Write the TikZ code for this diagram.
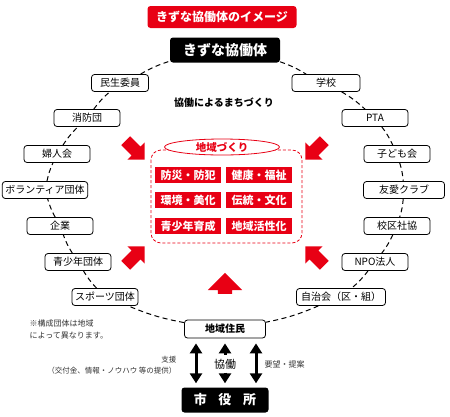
\documentclass[tikz,border=0pt]{standalone}
\usepackage{fontspec}
\setmainfont{Noto Sans CJK JP}
\usetikzlibrary{shapes.geometric,shapes.arrows,arrows.meta}
\definecolor{kred}{RGB}{232,0,20}

\begin{document}
\begin{tikzpicture}[x=1pt,y=-1pt,
    grp/.style={draw,rounded corners=3pt,fill=white,line width=0.8pt,minimum width=66pt,minimum height=17pt,inner xsep=3pt,inner ysep=0pt,font=\fontsize{10}{10}\selectfont},
    tag/.style={fill=kred,text=white,font=\bfseries\fontsize{11}{12}\selectfont,minimum width=66pt,minimum height=16pt,inner sep=0pt},
    head/.style={fill=black,text=white,rounded corners=3pt,inner sep=0pt,font=\bfseries\fontsize{14}{14}\selectfont},
    ring/.style={dash pattern=on 5pt off 3.5pt,line width=1pt},
    bigarrow/.style={single arrow,fill=kred,inner xsep=0pt,inner ysep=6pt,minimum height=27pt,single arrow head extend=6pt},
    link/.style={line width=3pt,{Triangle[width=12pt,length=10pt]}-{Triangle[width=12pt,length=10pt]},shorten <=5pt,shorten >=4pt}]
\useasboundingbox (0,0) rectangle (450,416);

% title and top
\node[fill=kred,text=white,rounded corners=3pt,minimum width=149pt,minimum height=22pt,inner sep=0pt,font=\bfseries\fontsize{12}{12}\selectfont] (title) at (222,17) {きずな協働体のイメージ};
\node[head,minimum width=110pt,minimum height=25pt] (kizuna) at (225,50) {きずな協働体};
\node[font=\bfseries\fontsize{10}{10}\selectfont] (machi) at (224,103) {協働によるまちづくり};

% left side groups
\node[grp,minimum width=57pt] (minsei) at (120,83) {民生委員};
\node[grp] (shobo)  at (87,118)  {消防団};
\node[grp] (fujin)  at (57,154)  {婦人会};
\node[grp,minimum width=80pt] (vol) at (45,190) {ボランティア団体};
\node[grp] (kigyo)  at (60,226)  {企業};
\node[grp] (seisho) at (78,262)  {青少年団体};
\node[grp] (sports) at (105,297) {スポーツ団体};

% right side groups
\node[grp,minimum width=68pt] (gakko) at (326,83) {学校};
\node[grp] (pta)    at (375,118) {PTA};
\node[grp] (kodomo) at (397,154) {子ども会};
\node[grp,minimum width=81pt] (yuai) at (404,190) {友愛クラブ};
\node[grp] (shakyo) at (397,226) {校区社協};
\node[grp] (npo)    at (375,262) {NPO法人};
\node[grp,minimum width=89pt] (jichi) at (341,297) {自治会（区・組）};

\node[grp,minimum width=81pt,minimum height=18pt,font=\bfseries\fontsize{10}{10}\selectfont] (jumin) at (225,329) {地域住民};

% dashed ring
\foreach \a/\b in {kizuna/gakko,gakko/pta,pta/kodomo,kodomo/yuai,yuai/shakyo,shakyo/npo,npo/jichi,jichi/jumin,
    jumin/sports,sports/seisho,seisho/kigyo,kigyo/vol,vol/fujin,fujin/shobo,shobo/minsei,minsei/kizuna}
  \draw[ring] (\a) to[bend left=6] (\b);

% centre
\draw[kred,dash pattern=on 3pt off 2pt,line width=0.8pt,rounded corners=10pt] (151,150) rectangle (302,243);
\node[ellipse,draw=kred,fill=white,line width=0.8pt,text=kred,minimum width=115pt,minimum height=16pt,inner sep=0pt,font=\bfseries\fontsize{10.5}{10}\selectfont] (zukuri) at (222,147) {地域づくり};
\node[tag] (bosai)  at (188,175) {防災・防犯};
\node[tag] (kenko)  at (259,175) {健康・福祉};
\node[tag] (kankyo) at (188,200) {環境・美化};
\node[tag] (dento)  at (259,200) {伝統・文化};
\node[tag] (ikusei) at (188,226) {青少年育成};
\node[tag] (kasei)  at (259,226) {地域活性化};

% red arrows
\node[bigarrow,rotate=-45]  (ul) at (133,148) {};
\node[bigarrow,rotate=-135] (ur) at (317,148) {};
\node[bigarrow,rotate=45]   (ll) at (133,258) {};
\node[bigarrow,rotate=135]  (lr) at (317,258) {};
\node[bigarrow,rotate=90,inner ysep=7pt,minimum height=21pt,single arrow head extend=10pt] (up) at (225,287) {};

% note
\node[anchor=north west,align=left,text=black!80,font=\fontsize{8}{12}\selectfont] (note) at (26,316) {※構成団体は地域\\によって異なります。};

% city hall
\node[head,minimum width=87pt,minimum height=25pt,font=\bfseries\fontsize{13}{13}\selectfont] (shi) at (225,400) {市\hspace{0.9em}役\hspace{0.9em}所};

\node[font=\fontsize{11}{11}\selectfont] (kyodo) at (225,364) {協働};
\draw[link] ([xshift=-29pt]jumin.south) -- ([xshift=-29pt]shi.north);
\draw[link] ([xshift=31pt]jumin.south) -- ([xshift=31pt]shi.north);
\draw[line width=3pt,{Triangle[width=12pt,length=10pt]}-,shorten <=5pt] (jumin.south) -- (kyodo.north);
\draw[line width=3pt,-{Triangle[width=12pt,length=10pt]},shorten >=4pt] (kyodo.south) -- (shi.north);

\node[anchor=east,align=right,text=black!80,font=\fontsize{7.5}{11}\selectfont] (shien) at (180,365) {支援\\（交付金、情報・ノウハウ 等の提供）};
\node[anchor=west,text=black!80,font=\fontsize{8}{10}\selectfont] (yobo) at (261,364) {要望・提案};
\end{tikzpicture}
\end{document}
